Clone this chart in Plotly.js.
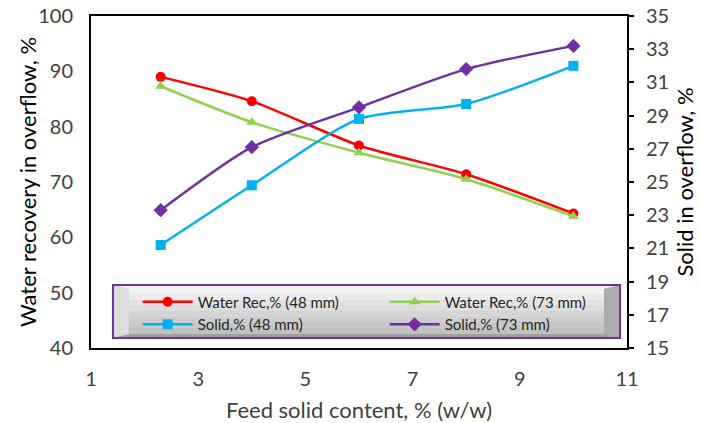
<!DOCTYPE html>
<html><head><meta charset="utf-8">
<script src="https://cdn.plot.ly/plotly-3.0.1.min.js"></script>
<style>html,body{margin:0;padding:0;background:#fff}#chart{width:701px;height:423px}</style>
</head><body><div id="chart"></div>
<script>
const feedSolid = [2.3, 4, 6, 8, 10];
const waterRec48 = [89.0, 84.6, 76.6, 71.4, 64.3];
const waterRec73 = [87.3, 80.8, 75.3, 70.5, 63.8];
const solid48 = [21.2, 24.8, 28.8, 29.7, 32.0];
const solid73 = [23.3, 27.1, 29.5, 31.8, 33.2];
const names = ["Water Rec,% (48 mm)", "Water Rec,% (73 mm)", "Solid,% (48 mm)", "Solid,% (73 mm)"];
const xTicks = [1, 3, 5, 7, 9, 11];
const yTicks = [40, 50, 60, 70, 80, 90, 100];
const y2Ticks = [15, 17, 19, 21, 23, 25, 27, 29, 31, 33, 35];

const F = "Lato, 'Open Sans', sans-serif";
const line = (c) => ({color: c, width: 2.5, shape: 'spline', smoothing: 0.7});
const traces = [
  {x: feedSolid, y: waterRec48, name: names[0], mode: 'lines+markers', line: line('#ff0000'), marker: {symbol: 'circle', size: 10, color: '#ff0000'}},
  {x: feedSolid, y: waterRec73, name: names[1], mode: 'lines+markers', line: line('#92d050'), marker: {symbol: 'triangle-up', size: 10, color: '#92d050'}},
  {x: feedSolid, y: solid48, name: names[2], yaxis: 'y2', mode: 'lines+markers', line: line('#00b0f0'), marker: {symbol: 'square', size: 10, color: '#00b0f0'}},
  {x: feedSolid, y: solid73, name: names[3], yaxis: 'y2', mode: 'lines+markers', line: line('#7030a0'), marker: {symbol: 'diamond', size: 11, color: '#7030a0'}}
];

// bevelled legend box (paper coordinates)
const L = 0.041, R = 0.987, T = 0.19, B = 0.030, bw = 0.03, bh = 0.012;
const shapes = [
  {type: 'rect', xref: 'paper', yref: 'paper', x0: L, x1: R, y0: B, y1: T, fillcolor: '#c4c4c4', line: {width: 0}, layer: 'above'},
  {type: 'path', xref: 'paper', yref: 'paper', path: `M${L},${T} L${R},${T} L${R-bw},${T-bh} L${L+bw},${T-bh} Z`, fillcolor: '#f4f4f4', line: {width: 0}, layer: 'above'},
  {type: 'path', xref: 'paper', yref: 'paper', path: `M${L},${B} L${R},${B} L${R-bw},${B+bh} L${L+bw},${B+bh} Z`, fillcolor: '#a0a0a0', line: {width: 0}, layer: 'above'},
  {type: 'path', xref: 'paper', yref: 'paper', path: `M${L},${T} L${L+bw},${T-bh} L${L+bw},${B+bh} L${L},${B} Z`, fillcolor: '#dcdcdc', line: {width: 0}, layer: 'above'},
  {type: 'path', xref: 'paper', yref: 'paper', path: `M${R},${T} L${R-bw},${T-bh} L${R-bw},${B+bh} L${R},${B} Z`, fillcolor: '#acacac', line: {width: 0}, layer: 'above'}
];
const nS = 8;
const inTop = T - bh, inBot = B + bh;
for (let i = 0; i < nS; i++) {
  const t = i / (nS - 1);
  const v = Math.round(242 - t * 50);
  const y1 = inTop - (inTop - inBot) * i / nS;
  const y0 = inTop - (inTop - inBot) * (i + 1) / nS;
  shapes.push({type: 'rect', xref: 'paper', yref: 'paper', x0: L + bw, x1: R - bw, y0: y0, y1: y1, fillcolor: `rgb(${v},${v},${v})`, line: {width: 0}, layer: 'above'});
}
shapes.push({type: 'rect', xref: 'paper', yref: 'paper', x0: L, x1: R, y0: B, y1: T, fillcolor: 'rgba(0,0,0,0)', line: {color: '#7030a0', width: 2}, layer: 'above'});

const layout = {
  width: 701, height: 423,
  margin: {l: 91, r: 74, t: 16, b: 75},
  paper_bgcolor: '#fff', plot_bgcolor: '#fff',
  font: {family: F, color: '#404040', size: 20},
  showlegend: true,
  legend: {orientation: 'h', x: 0.087, y: 0.188, xanchor: 'left', yanchor: 'top', bgcolor: 'rgba(0,0,0,0)',
           font: {family: F, size: 15, color: '#262626'}, entrywidth: 182, tracegroupgap: 0, itemwidth: 50},
  xaxis: {range: [1, 11], tickvals: xTicks, ticktext: xTicks.map(String), showgrid: false, zeroline: false,
          showline: true, linecolor: '#000', linewidth: 2, mirror: true, ticks: '', ticklabelstandoff: 12,
          tickfont: {family: F, size: 20, color: '#404040'},
          title: {text: 'Feed solid content, % (w/w)', font: {family: F, size: 22, color: '#404040'}}},
  yaxis: {range: [40, 100], tickvals: yTicks, ticktext: yTicks.map(String), showgrid: false, zeroline: false,
          showline: true, linecolor: '#000', linewidth: 2, ticks: '', ticklabelstandoff: 12,
          tickfont: {family: F, size: 20, color: '#404040'},
          title: {text: 'Water recovery in overflow, %', font: {family: F, size: 22, color: '#000'}}},
  yaxis2: {range: [15, 35], tickvals: y2Ticks, ticktext: y2Ticks.map(String), overlaying: 'y', side: 'right',
           showgrid: false, zeroline: false, showline: true, linecolor: '#000', linewidth: 2,
           ticks: 'outside', ticklen: 5, tickwidth: 2, tickcolor: '#000', ticklabelstandoff: 8,
           tickfont: {family: F, size: 20, color: '#404040'},
           title: {text: 'Solid in overflow, %', font: {family: F, size: 22, color: '#000'}}},
  shapes: shapes
};
Plotly.newPlot('chart', traces, layout, {displayModeBar: false, staticPlot: true});
</script></body></html>
